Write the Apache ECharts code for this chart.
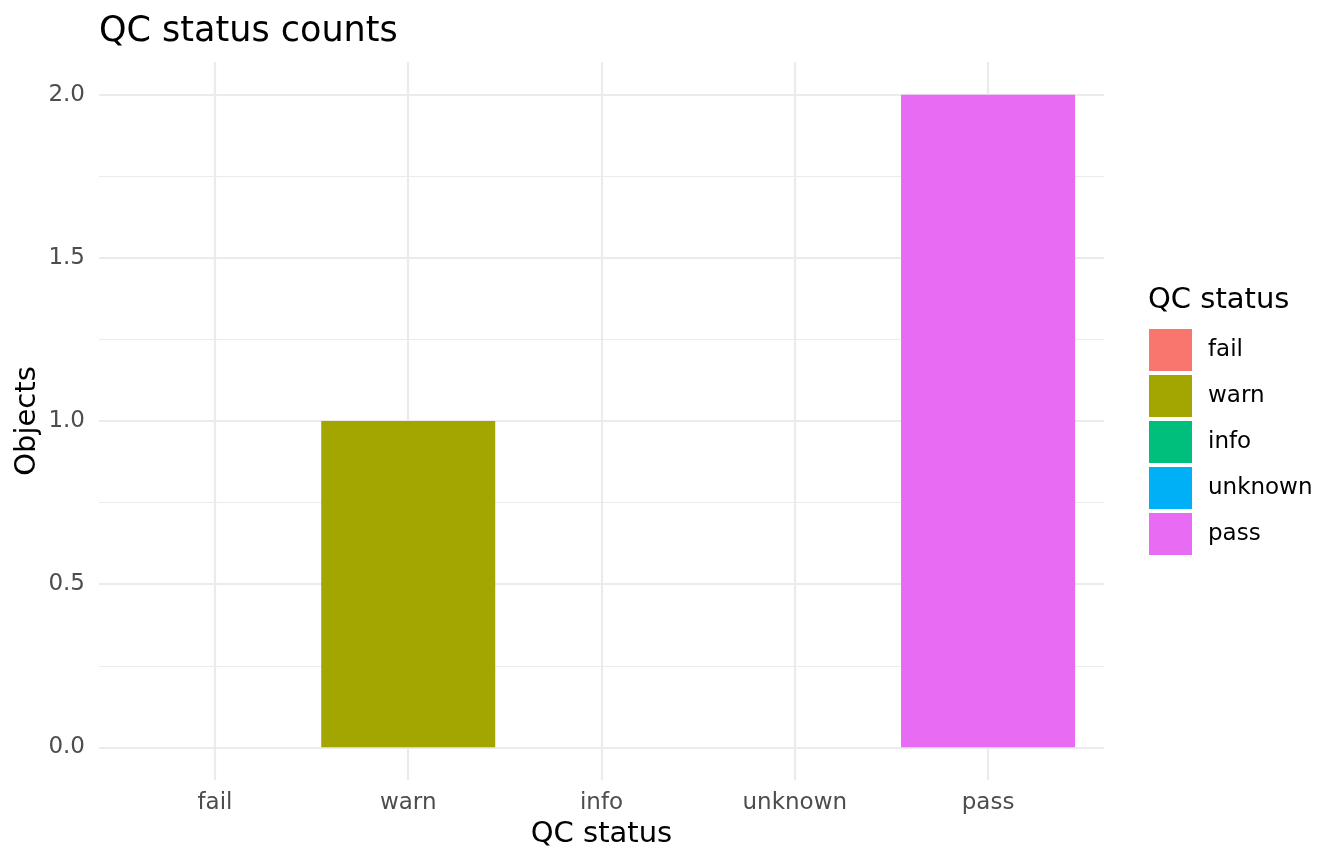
<!DOCTYPE html>
<html>
<head>
<meta charset="utf-8">
<script src="https://cdn.jsdelivr.net/npm/echarts@6/dist/echarts.min.js"></script>
<style>html,body{margin:0;padding:0;background:#fff;}#c{width:1344px;height:864px;}</style>
</head>
<body>
<div id="c"></div>
<script>
const categories = ['fail', 'warn', 'info', 'unknown', 'pass'];
const counts = [0, 1, 0, 0, 2];
const colors = ['#F8766D', '#A3A500', '#00BF7D', '#00B0F6', '#E76BF3'];
const yTicks = [0, 0.5, 1.0, 1.5, 2.0];
const yMinor = [0.25, 0.75, 1.25, 1.75];

const font = 'DejaVu Sans';
const chart = echarts.init(document.getElementById('c'), null, {renderer: 'canvas'});

const gridLines = [];
categories.forEach((c, i) => gridLines.push({xAxis: i, lineStyle: {color: '#ebebeb', width: 2.2}}));
yTicks.forEach(v => gridLines.push({yAxis: v, lineStyle: {color: '#ebebeb', width: 2.2}}));
yMinor.forEach(v => gridLines.push({yAxis: v, lineStyle: {color: '#ebebeb', width: 1.1}}));

const series = [{
  type: 'line', data: [], silent: true, zlevel: 0, z: 0,
  markLine: {silent: true, symbol: 'none', animation: false, label: {show: false},
    lineStyle: {type: 'solid'}, data: gridLines}
}];
categories.forEach((c, i) => {
  series.push({
    name: c, type: 'bar', stack: 'all', barWidth: 174, zlevel: 1, z: 2,
    itemStyle: {color: colors[i]},
    data: [[i, counts[i]]],
    animation: false
  });
});

chart.setOption({
  animation: false,
  textStyle: {fontFamily: font},
  title: {text: 'QC status counts', left: 94, top: 9,
    textStyle: {fontFamily: font, fontSize: 35, fontWeight: 'normal', color: '#000'}},
  grid: {left: 99, top: 62, width: 1005, height: 718, containLabel: false},
  xAxis: {
    type: 'value', min: -0.6, max: 4.6,
    name: 'QC status', nameLocation: 'middle', nameGap: 37,
    nameTextStyle: {fontFamily: font, fontSize: 29, color: '#000'},
    axisLine: {show: false}, axisTick: {show: false}, splitLine: {show: false},
    axisLabel: {customValues: [0, 1, 2, 3, 4], formatter: v => categories[Math.round(v)],
      fontFamily: font, fontSize: 23, color: '#4d4d4d', margin: 12}
  },
  yAxis: {
    type: 'value', min: -0.1, max: 2.1,
    name: 'Objects', nameLocation: 'middle', nameGap: 57, nameRotate: 90, nameMoveOverlap: false,
    nameTextStyle: {fontFamily: font, fontSize: 29, color: '#000'},
    axisLine: {show: false}, axisTick: {show: false}, splitLine: {show: false},
    axisLabel: {customValues: yTicks, formatter: v => v.toFixed(1),
      fontFamily: font, fontSize: 23, color: '#4d4d4d', margin: 14}
  },
  legend: {
    orient: 'vertical', left: 1149, top: 329, padding: 0, itemWidth: 43, itemHeight: 42, itemGap: 4,
    icon: 'rect', data: categories,
    textStyle: {fontFamily: font, fontSize: 23, color: '#000', padding: [0, 0, 0, 11]}
  },
  graphic: [{
    type: 'text', left: 1148, top: 286,
    style: {text: 'QC status', fontFamily: font, fontSize: 29, fill: '#000'}
  }],
  series: series
});
</script>
</body>
</html>
